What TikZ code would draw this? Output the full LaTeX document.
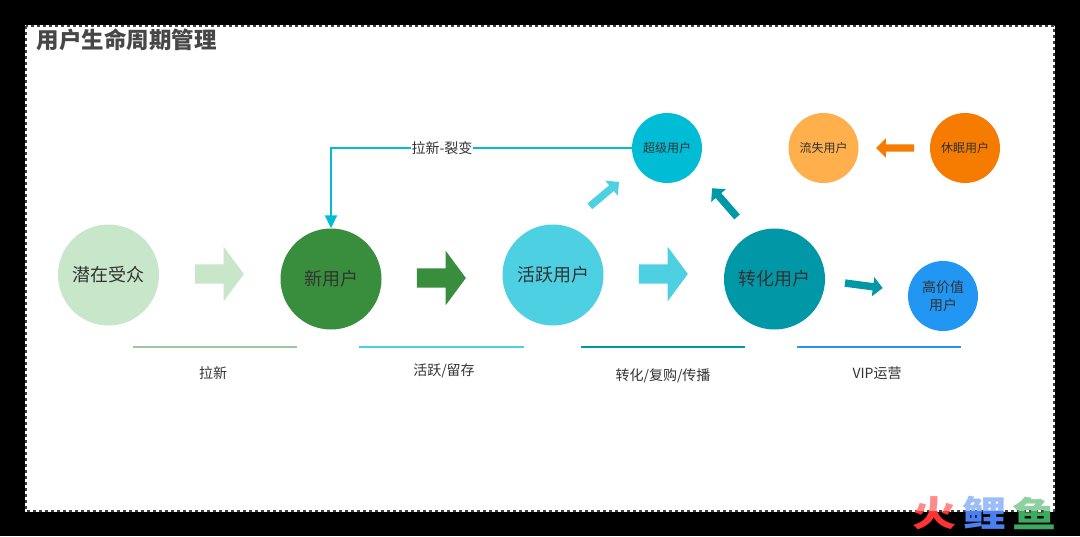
\documentclass[tikz,border=0pt]{standalone}
\usepackage{fontspec}
\setmainfont{Noto Sans CJK SC}
\usetikzlibrary{shapes.arrows,arrows.meta}
\definecolor{palegreen}{HTML}{C8E6C9}
\definecolor{darkgreen}{HTML}{388E3C}
\definecolor{lightcyan}{HTML}{4DD0E1}
\definecolor{midcyan}{HTML}{00BCD4}
\definecolor{darkteal}{HTML}{0097A7}
\definecolor{lightorange}{HTML}{FFB04C}
\definecolor{darkorange}{HTML}{F57C00}
\definecolor{midblue}{HTML}{2196F3}
\definecolor{inktext}{HTML}{333333}
\definecolor{logored}{HTML}{FF3333}
\definecolor{logoredpale}{HTML}{FF8A8A}
\definecolor{logoblue}{HTML}{4A80F0}
\definecolor{logobluepale}{HTML}{9DBDF8}
\definecolor{logogreen}{HTML}{3DAA60}
\definecolor{logogreenpale}{HTML}{8FD0A0}
\tikzset{
    bigcircle/.style={circle, minimum size=101pt, inner sep=0pt, font=\fontsize{18}{22}\selectfont, text=inktext},
    smallcircle/.style={circle, minimum size=70pt, inner sep=0pt, font=\fontsize{12}{15}\selectfont, text=inktext},
    bigarrow/.style={single arrow, inner sep=0pt, text height=19pt, text depth=0pt, minimum height=49pt, minimum width=54pt, single arrow head extend=17.5pt, single arrow tip angle=107},
    thinarrow/.style={single arrow, inner sep=0pt, text height=7pt, text depth=0pt, minimum height=38pt, minimum width=19pt, single arrow head extend=6pt, single arrow tip angle=90},
    phaseline/.style={line width=2pt},
    phaselabel/.style={font=\fontsize{14}{17}\selectfont, text=inktext},
    logotext/.style={font=\fontsize{44}{44}\selectfont\bfseries, inner sep=0pt, yscale=0.8}
}
\begin{document}
\begin{tikzpicture}[x=1pt, y=-1pt]
    \useasboundingbox (0,0) rectangle (1080,536);
    \fill[black] (0,0) rectangle (1080,536);
    \fill[white] (25,25) rectangle (1055,512);
    \draw[draw=black!75, line width=2pt, dash pattern=on 3pt off 3pt] (26,26) rectangle (1054,511);
    \node[anchor=west, inner sep=0pt, text=inktext!90, font=\fontsize{22.5}{26}\selectfont\bfseries] (title) at (36.5,40) {用户生命周期管理};

    % stages
    \node[bigcircle, fill=palegreen] (audience) at (108.5,275) {潜在受众};
    \node[bigcircle, fill=darkgreen] (newuser) at (331,279) {新用户};
    \node[bigcircle, fill=lightcyan] (active) at (553,275) {活跃用户};
    \node[bigcircle, fill=darkteal] (convert) at (774.5,279) {转化用户};
    \node[smallcircle, fill=midcyan] (super) at (667,148) {超级用户};
    \node[smallcircle, fill=lightorange] (lost) at (823.5,148) {流失用户};
    \node[smallcircle, fill=darkorange] (dormant) at (965,148) {休眠用户};
    \node[smallcircle, fill=midblue, align=center, font=\fontsize{14}{18}\selectfont] (vip) at (943,296) {高价值\\用户};

    % block arrows
    \node[bigarrow, fill=palegreen] (arrowa) at (215.75,274) {};
    \node[bigarrow, fill=darkgreen] (arrowb) at (437.75,278) {};
    \node[bigarrow, fill=lightcyan] (arrowc) at (659.75,274) {};
    \node[thinarrow, fill=lightcyan, rotate=40] (arrowd) at (603,195.3) {};
    \node[thinarrow, fill=darkteal, rotate=131] (arrowe) at (725.8,204) {};
    \node[thinarrow, fill=darkteal, rotate=-7.5] (arrowf) at (862,285.3) {};
    \node[thinarrow, fill=darkorange, rotate=180] (arrowg) at (897,148) {};

    \draw[midcyan, line width=2pt, -{Triangle[length=13pt, width=12pt]}] (super.west) -- (331,148) -- (newuser.north);
    \node[fill=white, inner sep=1pt, phaselabel] (fission) at (442,148.5) {拉新-裂变};

    % phases
    \coordinate (la) at (133,346.5);
    \coordinate (lb) at (297,346.5);
    \coordinate (lc) at (359,346.5);
    \coordinate (ld) at (524,346.5);
    \coordinate (le) at (581,346.5);
    \coordinate (lf) at (745,346.5);
    \coordinate (lg) at (797,346.5);
    \coordinate (lh) at (961,346.5);
    \draw[phaseline, color=darkgreen!50] (la) -- (lb);
    \draw[phaseline, color=lightcyan] (lc) -- (ld);
    \draw[phaseline, color=darkteal] (le) -- (lf);
    \draw[phaseline, color=midblue] (lg) -- (lh);
    \node[phaselabel] (phasea) at (213,373.5) {拉新};
    \node[phaselabel] (phaseb) at (444,370.5) {活跃/留存};
    \node[phaselabel] (phasec) at (663,375.5) {转化/复购/传播};
    \node[phaselabel] (phased) at (877,373.5) {VIP运营};

    % watermark, paler over the white part
    \begin{scope}
        \clip (900,480) rectangle (1070,511);
        \node[logotext, text=logoredpale] (logoa) at (934,513) {火};
        \node[logotext, text=logobluepale] (logob) at (984,513) {鲤};
        \node[logotext, text=logogreenpale] (logoc) at (1034,513) {鱼};
    \end{scope}
    \begin{scope}
        \clip (900,511) rectangle (1070,536);
        \node[logotext, text=logored] (logod) at (934,513) {火};
        \node[logotext, text=logoblue] (logoe) at (984,513) {鲤};
        \node[logotext, text=logogreen] (logof) at (1034,513) {鱼};
    \end{scope}
\end{tikzpicture}
\end{document}
